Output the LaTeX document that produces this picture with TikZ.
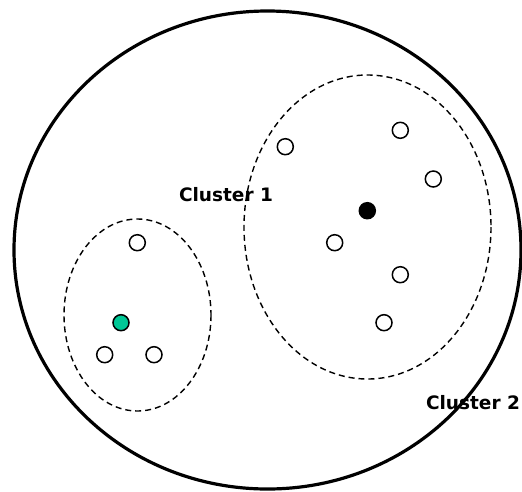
\documentclass[tikz,border=0pt]{standalone}
\usepackage{fontspec}
\setmainfont{DejaVu Sans}
\definecolor{seagreen}{RGB}{0,200,150}
\begin{document}
\begin{tikzpicture}[x=1pt,y=-1pt,
  pt/.style={circle,draw=black,line width=1.5pt,minimum size=16pt,inner sep=0pt,fill=white},
  lbl/.style={font=\fontsize{18.5}{21}\selectfont\bfseries,inner sep=0pt},
  grp/.style={dash pattern=on 6pt off 4pt,line width=1.4pt}]
\useasboundingbox (0,0) rectangle (522,491);
\node[lbl] (c1) at (226,195) {Cluster 1};
\node[lbl] (c2) at (473,403) {Cluster 2};
\draw[line width=3.2pt] (267.5,250) ellipse [x radius=253.5, y radius=239];
\draw[grp] (137.5,315) ellipse [x radius=73.5, y radius=96];
\draw[grp] (367.5,227) ellipse [x radius=123.5, y radius=152];
\node[pt] (a1) at (137.3,242.7) {};
\node[pt,fill=seagreen] (a2) at (121,322.7) {};
\node[pt] (a3) at (104.7,354.7) {};
\node[pt] (a4) at (154,354.7) {};
\node[pt] (b1) at (285.3,146.7) {};
\node[pt] (b2) at (400.3,130.3) {};
\node[pt] (b3) at (433.3,179) {};
\node[pt,fill=black] (b4) at (367.3,210.7) {};
\node[pt] (b5) at (334.7,242.7) {};
\node[pt] (b6) at (400.3,274.7) {};
\node[pt] (b7) at (384,322.7) {};
\end{tikzpicture}
\end{document}
